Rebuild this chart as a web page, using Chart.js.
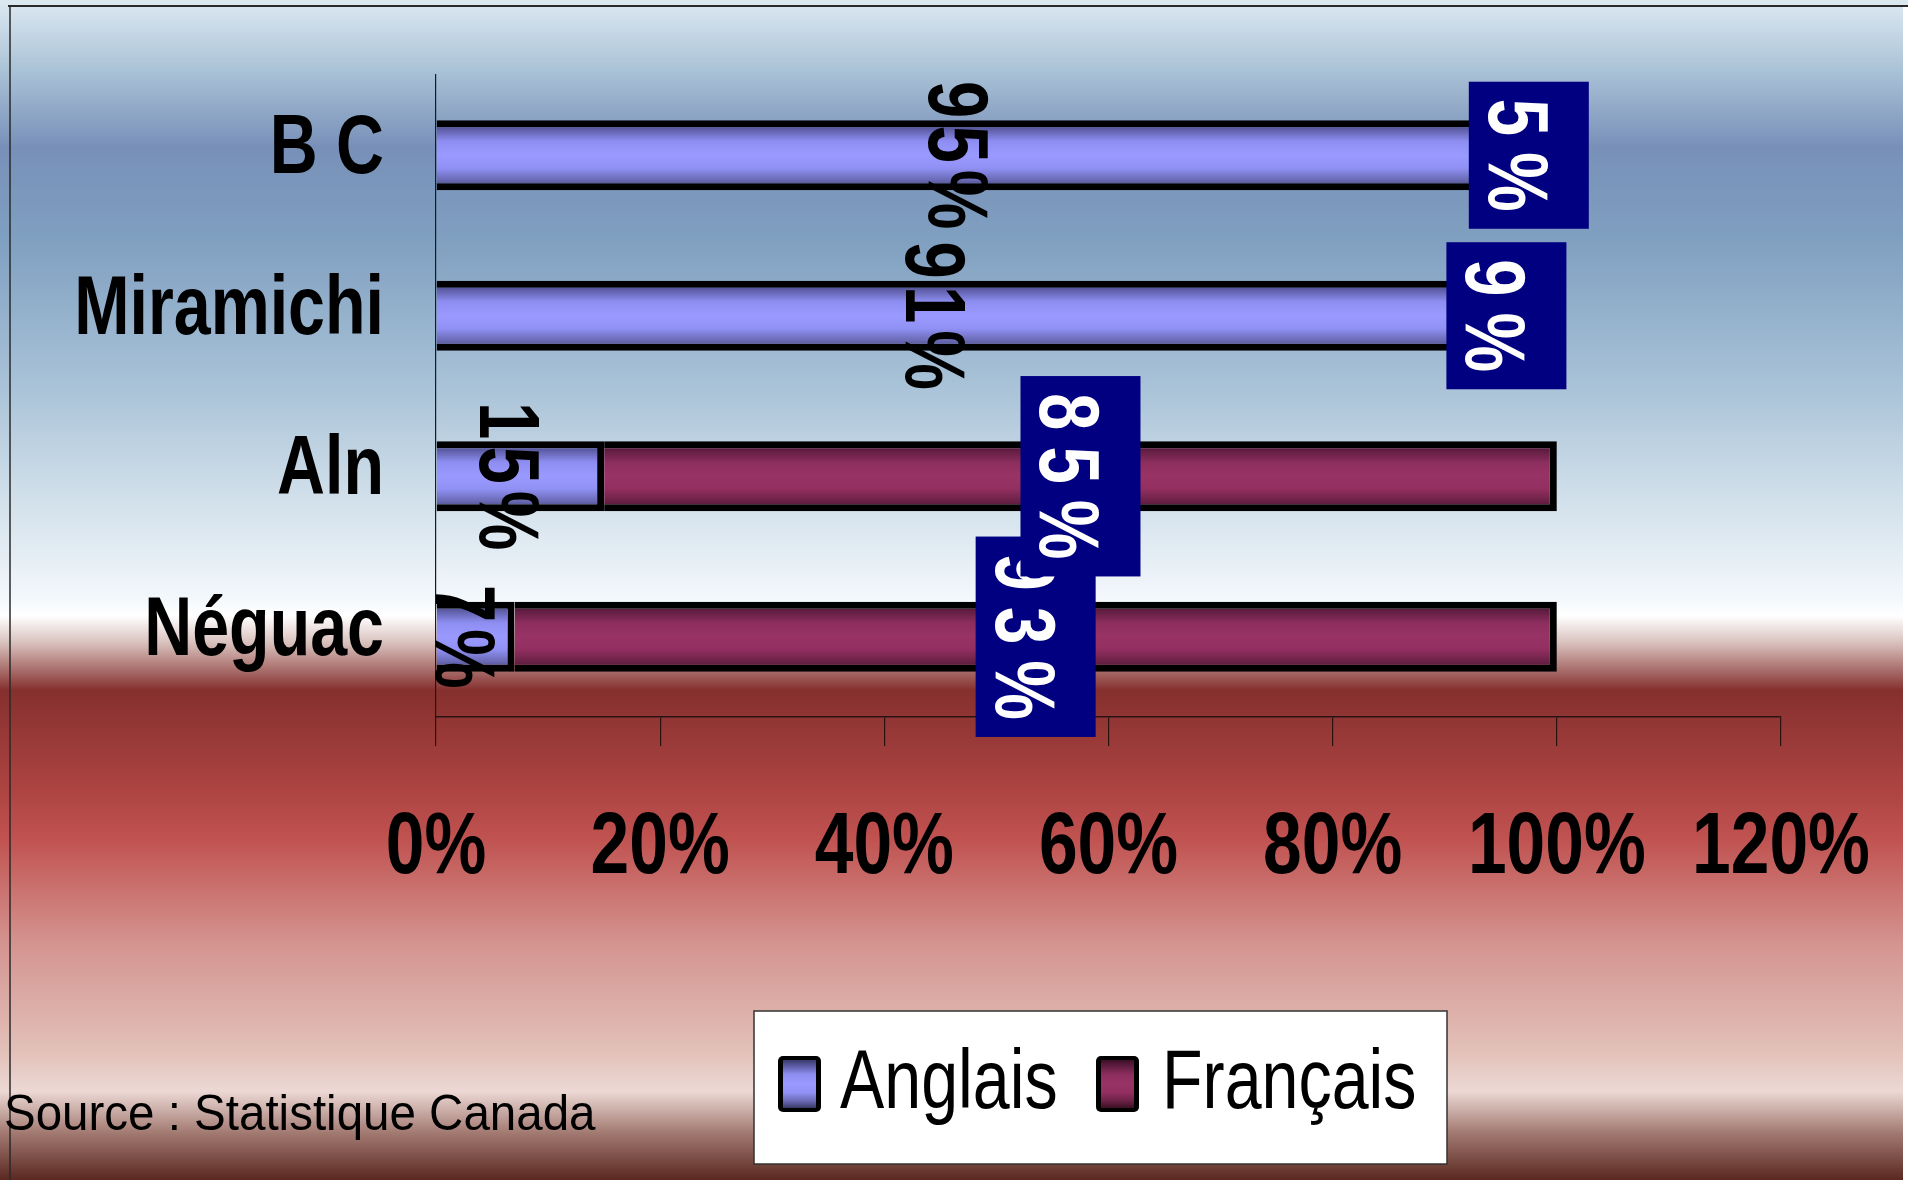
<!DOCTYPE html>
<html>
<head>
<meta charset="utf-8">
<title>Langue maternelle</title>
<script src="https://cdn.jsdelivr.net/npm/chart.js@4.4.1/dist/chart.umd.min.js"></script>
<style>
    html, body { margin: 0; padding: 0; background: #fff; }
    canvas { display: block; }
</style>
</head>
<body>
<canvas id="myChart" width="1908" height="1180"></canvas>
<script>
// data
const categories = ['B C', 'Miramichi', 'Aln', 'Néguac'];
const anglais = [95, 91, 15, 7];
const francais = [5, 9, 85, 93];
const xTickValues = [0, 20, 40, 60, 80, 100, 120];
const xTickLabels = ['0%', '20%', '40%', '60%', '80%', '100%', '120%'];
const sourceNote = 'Source : Statistique Canada';

const FONT = '"Liberation Sans", Arial, sans-serif';
const SQUEEZE = 0.79;
const BAR_PCT = 0.436;

const anglaisStops = [[0, '#3a3a6c'], [0.12, '#5a5aa2'], [0.3, '#8e8ef2'], [0.5, '#9999ff'], [0.68, '#9191f5'], [0.86, '#6868b2'], [1, '#383866']];
const francaisStops = [[0, '#3c0f27'], [0.12, '#5e1c40'], [0.3, '#8c2e5e'], [0.5, '#993366'], [0.68, '#922f60'], [0.86, '#6a2146'], [1, '#3a0f25']];
const bgStops = [[0, '#dde9f2'], [0.06, '#aac2d6'], [0.125, '#7890b8'], [0.2, '#7f9fc0'], [0.32, '#a6c0d6'],
    [0.42, '#d0dfea'], [0.505, '#f2f7fb'], [0.522, '#ffffff'], [0.545, '#d8c0bc'], [0.585, '#85302e'],
    [0.67, '#ad4442'], [0.71, '#c05250'], [0.8, '#d49490'], [0.89, '#e2c0b8'], [0.925, '#ecd8d4'],
    [0.96, '#a27a72'], [1, '#5a2820']];

function makeGradient(ctx, y0, y1, stops) {
    const g = ctx.createLinearGradient(0, y0, 0, y1);
    stops.forEach(([o, c]) => g.addColorStop(o, c));
    return g;
}

function barFill(stops) {
    return (c) => {
        const chart = c.chart;
        const yScale = chart.scales && chart.scales.y;
        if (!yScale || !chart.chartArea || c.dataIndex === undefined) return stops[3][1];
        const cy = yScale.getPixelForValue(c.dataIndex);
        const h = yScale.height / categories.length * BAR_PCT;
        return makeGradient(chart.ctx, cy - h / 2, cy + h / 2, stops);
    };
}

// squeezed horizontal text, like the narrow type in the original
function squeezedText(ctx, text, x, y, font, align, sx) {
    ctx.save();
    ctx.font = font;
    ctx.fillStyle = '#000';
    ctx.textAlign = align;
    ctx.textBaseline = 'alphabetic';
    ctx.translate(x, y);
    ctx.scale(sx, 1);
    ctx.fillText(text, 0, 0);
    ctx.restore();
}

// label turned a quarter clockwise, letters spaced out
function verticalLabel(ctx, text, cx, cy, boxed) {
    const font = 'bold 85px ' + FONT;
    const gap = boxed ? 16 : 7;
    const chars = Array.from(text);
    ctx.save();
    ctx.font = font;
    const widths = chars.map(ch => ctx.measureText(ch).width * SQUEEZE);
    const total = widths.reduce((a, b) => a + b, 0) + gap * (chars.length - 1);
    ctx.translate(cx, cy);
    ctx.rotate(Math.PI / 2);
    if (boxed) {
        ctx.fillStyle = '#000080';
        ctx.fillRect(-total / 2 - 17, -60, total + 34, 120);
    }
    ctx.fillStyle = boxed ? '#ffffff' : '#000000';
    ctx.textAlign = 'left';
    ctx.textBaseline = 'alphabetic';
    let pos = -total / 2;
    chars.forEach((ch, i) => {
        ctx.save();
        ctx.translate(pos, 40);
        ctx.scale(SQUEEZE, 1);
        ctx.fillText(ch, 0, 0);
        ctx.restore();
        pos += widths[i] + gap;
    });
    ctx.restore();
}

const backdrop = {
    id: 'backdrop',
    beforeDraw(chart) {
        const ctx = chart.ctx;
        const W = chart.width, H = chart.height;
        ctx.save();
        ctx.fillStyle = makeGradient(ctx, 0, H, bgStops);
        ctx.fillRect(0, 0, W, H);
        ctx.fillStyle = '#dbe8f0';
        ctx.fillRect(0, 0, W, 5);
        ctx.fillStyle = '#ffffff';
        ctx.fillRect(1903, 5, W - 1903, H);
        ctx.strokeStyle = '#2a2a2a';
        ctx.lineWidth = 2;
        ctx.beginPath();
        ctx.moveTo(8, 6);
        ctx.lineTo(W, 6);
        ctx.stroke();
        ctx.lineWidth = 1.5;
        ctx.beginPath();
        ctx.moveTo(10, 6);
        ctx.lineTo(10, H);
        ctx.stroke();
        ctx.restore();
    }
};

const barLabels = {
    id: 'barLabels',
    afterDatasetsDraw(chart) {
        const ctx = chart.ctx;
        chart.data.datasets.forEach((ds, di) => {
            const meta = chart.getDatasetMeta(di);
            for (let i = meta.data.length - 1; i >= 0; i--) {
                const bar = meta.data[i];
                const cx = (bar.x + bar.base) / 2;
                verticalLabel(ctx, ds.data[i] + '%', cx, bar.y, di === 1);
            }
        });
    }
};

const axisText = {
    id: 'axisText',
    afterDraw(chart) {
        const ctx = chart.ctx;
        const xs = chart.scales.x, ys = chart.scales.y;
        xTickValues.forEach((v, i) => {
            squeezedText(ctx, xTickLabels[i], xs.getPixelForValue(v), 873, 'bold 88px ' + FONT, 'center', SQUEEZE);
        });
        categories.forEach((c, i) => {
            squeezedText(ctx, c, 384, ys.getPixelForValue(i) + 18, 'bold 84px ' + FONT, 'right', SQUEEZE);
        });

        // legend box
        ctx.save();
        ctx.fillStyle = '#ffffff';
        ctx.fillRect(754, 1011, 693, 153);
        ctx.strokeStyle = '#333';
        ctx.lineWidth = 1.5;
        ctx.strokeRect(754, 1011, 693, 153);
        const items = [
            { x: 778, tx: 840, stops: anglaisStops },
            { x: 1096, tx: 1162, stops: francaisStops }
        ];
        chart.data.datasets.forEach((ds, i) => {
            const it = items[i];
            ctx.beginPath();
            ctx.roundRect(it.x, 1056, 43, 56, 5);
            ctx.fillStyle = '#000';
            ctx.fill();
            ctx.fillStyle = makeGradient(ctx, 1060, 1108, it.stops);
            ctx.fillRect(it.x + 5, 1060, 33, 48);
            squeezedText(ctx, ds.label, it.tx, 1108, '84px ' + FONT, 'left', SQUEEZE);
        });
        ctx.restore();

        squeezedText(ctx, sourceNote, 4, 1130, '50px ' + FONT, 'left', 0.95);
    }
};

Chart.defaults.font.family = FONT;

new Chart(document.getElementById('myChart').getContext('2d'), {
    type: 'bar',
    data: {
        labels: categories,
        datasets: [
            {
                label: 'Anglais',
                data: anglais,
                backgroundColor: barFill(anglaisStops),
                borderColor: '#000',
                borderWidth: 7
            },
            {
                label: 'Français',
                data: francais,
                backgroundColor: barFill(francaisStops),
                borderColor: '#000',
                borderWidth: 7
            }
        ]
    },
    options: {
        indexAxis: 'y',
        responsive: false,
        animation: false,
        devicePixelRatio: 1,
        datasets: {
            bar: { categoryPercentage: 1, barPercentage: BAR_PCT }
        },
        layout: {
            padding: { left: 436, right: 127, top: 75, bottom: 434 }
        },
        plugins: {
            legend: { display: false },
            tooltip: { enabled: false }
        },
        scales: {
            x: {
                stacked: true,
                min: 0,
                max: 120,
                ticks: { display: false, stepSize: 20 },
                grid: { drawOnChartArea: false, drawTicks: true, tickLength: 29, color: '#2a1212', lineWidth: 1.2 },
                border: { display: true, color: '#2a1212', width: 1.5 }
            },
            y: {
                stacked: true,
                ticks: { display: false },
                grid: { display: false, drawTicks: false },
                border: { display: true, color: '#1a1a1a', width: 1.2 }
            }
        }
    },
    plugins: [backdrop, barLabels, axisText]
});
</script>
</body>
</html>
